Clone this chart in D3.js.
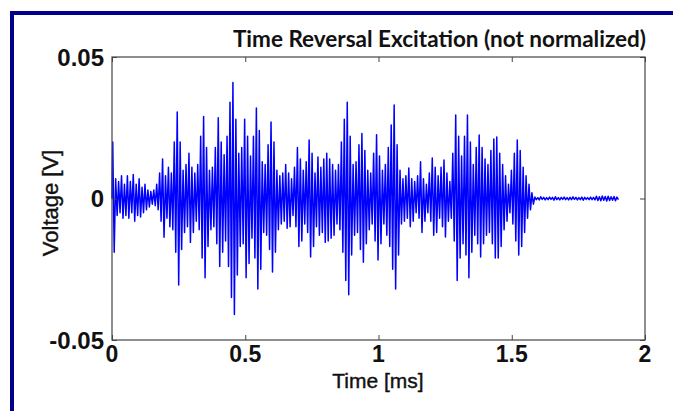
<!DOCTYPE html>
<html>
<head>
<meta charset="utf-8">
<script src="https://cdn.jsdelivr.net/npm/d3@7"></script>
<style>
  html, body { margin: 0; padding: 0; background: #fff; }
  svg { display: block; }
</style>
</head>
<body>
<svg id="chart" width="673" height="411"></svg>
<script>
// ---- data ----
const titleText = "Time Reversal Excitation (not normalized)";
const xLabel = "Time [ms]";
const yLabel = "Voltage [V]";
const xTicks = [0, 0.5, 1, 1.5, 2];
const xTickLabels = ["0", "0.5", "1", "1.5", "2"];
const yTicks = [-0.05, 0, 0.05];
const yTickLabels = ["-0.05", "0", "0.05"];
const cyclePeriod = 0.011; // ms, carrier period

// positive peak of each carrier cycle [V]
const peakUp = [
  0.020, 0.007, 0.006, 0.008, 0.005, 0.008, 0.006, 0.0085, 0.005, 0.007,
  0.004, 0.005, 0.003, 0.0025, 0.003, 0.005, 0.009, 0.014, 0.008, 0.011,
  0.009, 0.020, 0.0306, 0.020, 0.010, 0.012, 0.016, 0.011, 0.009, 0.012,
  0.022, 0.029, 0.018, 0.010, 0.011, 0.018, 0.0285, 0.020, 0.0155, 0.022,
  0.034, 0.041, 0.028, 0.016, 0.018, 0.028, 0.022, 0.015, 0.022, 0.032,
  0.024, 0.013, 0.012, 0.019, 0.027, 0.020, 0.010, 0.008, 0.009, 0.012,
  0.009, 0.007, 0.011, 0.018, 0.014, 0.010, 0.013, 0.0207, 0.016, 0.009,
  0.0147, 0.011, 0.014, 0.016, 0.014, 0.012, 0.010, 0.012, 0.020, 0.028,
  0.034, 0.022, 0.012, 0.013, 0.019, 0.023, 0.017, 0.010, 0.009, 0.016,
  0.0225, 0.015, 0.010, 0.012, 0.018, 0.026, 0.033, 0.019, 0.010, 0.007,
  0.008, 0.0108, 0.007, 0.006, 0.008, 0.013, 0.007, 0.005, 0.009, 0.0143,
  0.011, 0.008, 0.011, 0.0136, 0.009, 0.006, 0.016, 0.0295, 0.022, 0.015,
  0.022, 0.0295, 0.020, 0.012, 0.018, 0.0224, 0.018, 0.014, 0.012, 0.017,
  0.021, 0.0217, 0.016, 0.012, 0.008, 0.005, 0.010, 0.016, 0.0207, 0.017,
  0.011, 0.008, 0.005, 0.002,
  // residual tail
  0.0005, 0.0003, 0.0006, 0.0004, 0.0003, 0.0005, 0.0004, 0.0006, 0.0003, 0.0004,
  0.0005, 0.0003, 0.0004, 0.0006, 0.0004, 0.0003, 0.0005, 0.0004, 0.0003, 0.0005,
  0.0004, 0.0008, 0.0006, 0.0009, 0.0007, 0.0008, 0.0006, 0.0007, 0.0005
];
// negative peak of each carrier cycle [V]
const peakDown = [
  -0.019, -0.006, -0.005, -0.007, -0.006, -0.007, -0.005, -0.008, -0.006, -0.0065,
  -0.005, -0.004, -0.003, -0.002, -0.0025, -0.004, -0.008, -0.0137, -0.007, -0.010,
  -0.011, -0.019, -0.0306, -0.018, -0.012, -0.010, -0.0155, -0.012, -0.008, -0.011,
  -0.021, -0.028, -0.017, -0.011, -0.010, -0.016, -0.024, -0.019, -0.015, -0.024,
  -0.035, -0.041, -0.027, -0.017, -0.016, -0.028, -0.023, -0.014, -0.021, -0.032,
  -0.025, -0.012, -0.013, -0.018, -0.026, -0.019, -0.011, -0.009, -0.008, -0.0105,
  -0.010, -0.006, -0.010, -0.017, -0.015, -0.009, -0.012, -0.0207, -0.017, -0.010,
  -0.013, -0.012, -0.0155, -0.015, -0.014, -0.013, -0.009, -0.011, -0.019, -0.029,
  -0.034, -0.020, -0.013, -0.012, -0.018, -0.0225, -0.016, -0.011, -0.009, -0.015,
  -0.0217, -0.016, -0.009, -0.013, -0.017, -0.025, -0.032, -0.020, -0.009, -0.008,
  -0.007, -0.010, -0.008, -0.005, -0.007, -0.012, -0.008, -0.005, -0.008, -0.013,
  -0.012, -0.007, -0.010, -0.0136, -0.008, -0.007, -0.015, -0.029, -0.021, -0.016,
  -0.020, -0.028, -0.019, -0.013, -0.016, -0.0207, -0.016, -0.013, -0.012, -0.016,
  -0.021, -0.021, -0.017, -0.011, -0.008, -0.005, -0.009, -0.015, -0.020, -0.017,
  -0.012, -0.007, -0.004, -0.002,
  // residual tail
  -0.0004, -0.0005, -0.0003, -0.0005, -0.0004, -0.0003, -0.0006, -0.0004, -0.0005, -0.0003,
  -0.0004, -0.0005, -0.0004, -0.0003, -0.0005, -0.0004, -0.0006, -0.0003, -0.0004, -0.0004,
  -0.0005, -0.0007, -0.0008, -0.0006, -0.0009, -0.0007, -0.0006, -0.0008, -0.0004
];

// ---- drawing ----
const svg = d3.select("#chart");
const plot = { left: 112, right: 645, top: 57, bottom: 340 };

const x = d3.scaleLinear().domain([0, 2]).range([plot.left, plot.right]);
const y = d3.scaleLinear().domain([-0.05, 0.05]).range([plot.bottom, plot.top]);

// navy outer frame (extends past the right and bottom edges)
svg.append("path")
  .attr("d", "M12,420 L12,13 L680,13")
  .attr("fill", "none")
  .attr("stroke", "#00008b")
  .attr("stroke-width", 4);

// build waveform points
const pts = [[0, 0]];
peakUp.forEach((u, k) => {
  pts.push([k * cyclePeriod + cyclePeriod * 0.25, u]);
  pts.push([k * cyclePeriod + cyclePeriod * 0.75, peakDown[k]]);
});

const line = d3.line().x(d => x(d[0])).y(d => y(d[1]));
svg.append("path")
  .datum(pts)
  .attr("d", line)
  .attr("fill", "none")
  .attr("stroke", "#0000ff")
  .attr("stroke-width", 1.5)
  .attr("stroke-linejoin", "round");

// axes (inner ticks)
const axisColor = "#444";
const bottomAxis = d3.axisBottom(x).tickValues(xTicks).tickSize(-5).tickFormat("");
const topAxis = d3.axisTop(x).tickValues(xTicks).tickSize(-5).tickFormat("");
const leftAxis = d3.axisLeft(y).tickValues(yTicks).tickSize(-5).tickFormat("");
const rightAxis = d3.axisRight(y).tickValues(yTicks).tickSize(-5).tickFormat("");

function styleAxis(g) {
  g.select(".domain").remove();
  g.selectAll("line").attr("stroke", axisColor);
}
svg.append("g").attr("transform", `translate(0,${plot.bottom})`).call(bottomAxis).call(styleAxis);
svg.append("g").attr("transform", `translate(0,${plot.top})`).call(topAxis).call(styleAxis);
svg.append("g").attr("transform", `translate(${plot.left},0)`).call(leftAxis).call(styleAxis);
svg.append("g").attr("transform", `translate(${plot.right},0)`).call(rightAxis).call(styleAxis);

// plot box
svg.append("rect")
  .attr("x", plot.left).attr("y", plot.top)
  .attr("width", plot.right - plot.left).attr("height", plot.bottom - plot.top)
  .attr("fill", "none").attr("stroke", axisColor).attr("stroke-width", 1.2);

// tick labels
const tickFont = "'Liberation Sans', Arial, sans-serif";
svg.append("g").selectAll("text")
  .data(xTicks)
  .join("text")
  .attr("x", d => x(d))
  .attr("y", 362)
  .attr("text-anchor", "middle")
  .attr("font-family", tickFont)
  .attr("font-weight", "bold")
  .attr("font-size", 23)
  .attr("fill", "#111")
  .text((d, i) => xTickLabels[i]);

svg.append("g").selectAll("text")
  .data(yTicks)
  .join("text")
  .attr("x", plot.left - 8)
  .attr("y", d => y(d) + 8.5)
  .attr("text-anchor", "end")
  .attr("font-family", tickFont)
  .attr("font-weight", "bold")
  .attr("font-size", 24)
  .attr("fill", "#111")
  .text((d, i) => yTickLabels[i]);

// axis labels
svg.append("text")
  .attr("x", 378)
  .attr("y", 388)
  .attr("text-anchor", "middle")
  .attr("font-family", tickFont)
  .attr("font-size", 21)
  .attr("fill", "#111")
  .attr("stroke", "#111")
  .attr("stroke-width", 0.4)
  .text(xLabel);

svg.append("text")
  .attr("transform", `translate(58,203) rotate(-90)`)
  .attr("text-anchor", "middle")
  .attr("font-family", tickFont)
  .attr("font-size", 22)
  .attr("fill", "#111")
  .attr("stroke", "#111")
  .attr("stroke-width", 0.4)
  .text(yLabel);

// title
svg.append("text")
  .attr("x", 646)
  .attr("y", 47)
  .attr("text-anchor", "end")
  .attr("font-family", "Lato, 'Open Sans', sans-serif")
  .attr("font-weight", "bold")
  .attr("font-size", 22.5)
  .attr("fill", "#111")
  .text(titleText);
</script>
</body>
</html>
